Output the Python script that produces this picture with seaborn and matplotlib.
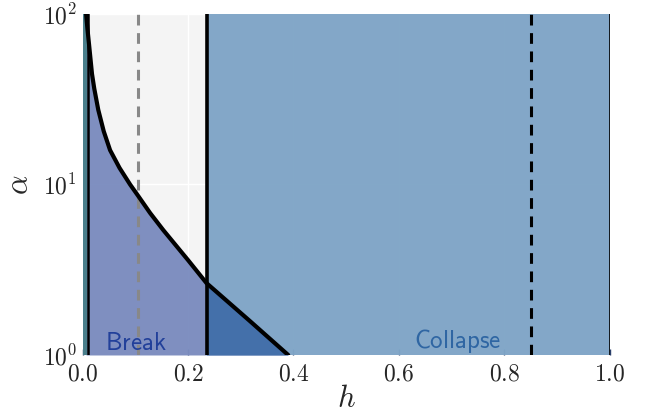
import numpy as np
import pandas as pd
import matplotlib
matplotlib.use("Agg")
import matplotlib.pyplot as plt
import seaborn as sns

# Data
h_curve = [0.0065, 0.009, 0.012, 0.0177, 0.022, 0.0296, 0.040, 0.052, 0.070, 0.090,
           0.105, 0.128, 0.153, 0.200, 0.235, 0.3175, 0.39]
alpha_curve = [100, 82, 66.7, 44.5, 36.5, 27.4, 20.5, 15.9, 12.5, 10.0,
               8.6, 6.8, 5.4, 3.6, 2.64, 1.58, 1.0]
h_teal_end = 0.0085
h_left_line = 0.0105
h_gray_dash = 0.1055
h_mid_line = 0.235
h_black_dash = 0.851
x_ticks = [0.0, 0.2, 0.4, 0.6, 0.8, 1.0]

sns.set_style("darkgrid", {"axes.facecolor": "#f4f4f4", "grid.color": "white"})
plt.rcParams["font.family"] = "serif"
plt.rcParams["font.serif"] = ["cmr10", "DejaVu Serif"]
plt.rcParams["mathtext.fontset"] = "cm"
plt.rcParams["axes.formatter.use_mathtext"] = True

df = pd.DataFrame({"h": h_curve, "alpha": alpha_curve})

fig = plt.figure(figsize=(6.52, 4.2), dpi=100)
ax = fig.add_axes([0.1268, 0.1548, 0.8082, 0.8119])

h = np.array(h_curve)
a = np.array(alpha_curve)

ax.fill_between(h, 1, a, color="#7b8cbf", lw=0, zorder=1, alpha=0.97)
ax.axvspan(0, h_teal_end, color="#4a7f8c", lw=0, zorder=2)
ax.axvspan(h_mid_line, 1.0, color="#7fa5c7", lw=0, zorder=2, alpha=0.97)
m = h >= h_mid_line
ax.fill_between(h[m], 1, a[m], color="#4470aa", lw=0, zorder=3)

sns.lineplot(data=df, x="h", y="alpha", ax=ax, color="black", lw=3, zorder=6, sort=False)

ax.axvline(h_left_line, color="black", lw=1.8, zorder=5)
ax.axvline(h_mid_line, color="black", lw=2.6, zorder=5)
ax.axvline(h_gray_dash, color="#888888", lw=2.2, ls=(0, (3.5, 2.5)), zorder=5)
ax.axvline(h_black_dash, color="black", lw=2.2, ls=(0, (3.5, 2.5)), zorder=5)
ax.axvline(1.0, color="black", lw=1.2, zorder=5)

ax.set_yscale("log")
ax.set_xlim(0, 1)
ax.set_ylim(1, 100)
ax.set_xticks(x_ticks)
ax.minorticks_off()
ax.set_yticks([1, 10, 100])
ax.tick_params(axis="both", labelsize=17, direction="in", length=4, width=1,
               color="#2a3f6a", bottom=True, left=False)
ax.tick_params(axis="x", pad=6)
ax.tick_params(axis="y", pad=4)
ax.grid(True, color="white", lw=1)
ax.set_axisbelow(True)
for s in ax.spines.values():
    s.set_visible(False)

ax.set_xlabel(r"$h$", fontsize=22, labelpad=0)
ax.set_ylabel(r"$\alpha$", fontsize=22, labelpad=6)

ax.text(0.102, 1.0, r"$\mathsf{Break}$", fontsize=18, color="#22409a",
        ha="center", va="bottom", zorder=7)
ax.text(0.711, 1.0, r"$\mathsf{Collapse}$", fontsize=18, color="#2f66a3",
        ha="center", va="bottom", zorder=7)

fig.savefig("out.png", dpi=100)
